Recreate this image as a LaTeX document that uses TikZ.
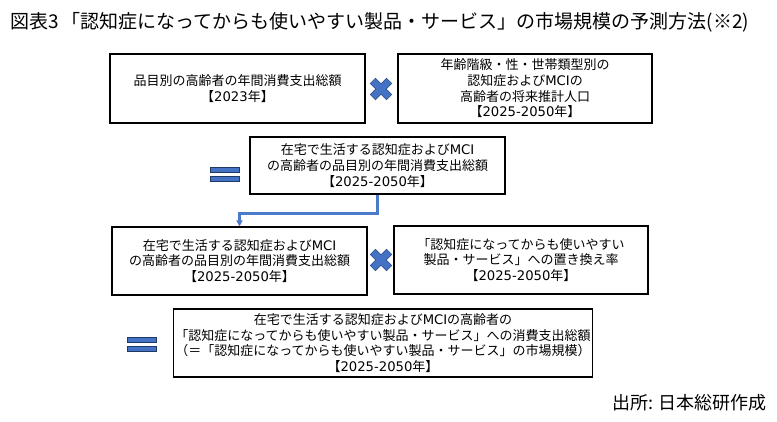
\documentclass[tikz,border=0pt]{standalone}
\usepackage{fontspec}
\setmainfont{Noto Sans CJK JP}
\newfontfamily\lat{DejaVu Sans}
\usetikzlibrary{arrows.meta}
\definecolor{xblue}{HTML}{4472C4}
\definecolor{xedge}{HTML}{2F528F}
\definecolor{eqedge}{HTML}{1F3864}
\definecolor{linkblue}{HTML}{4A7BC8}
\tikzset{
  box/.style={draw=black, line width=1.1pt, fill=white, align=center, inner sep=2pt,
    font=\fontsize{13}{15.7}\selectfont},
  eqbar/.style={fill=xblue, draw=eqedge, line width=0.8pt},
  xmark/.style={fill=xblue, draw=xedge, line width=0.6pt},
  link/.style={draw=linkblue, line width=2.2pt, -{Triangle[length=6pt,width=6pt]}},
}
\newcommand{\latx}[1]{{\lat\fontsize{13.2}{15.7}\selectfont #1}}
\newcommand{\yrs}{【\latx{2025-2050}年】}
\newcommand{\mci}{\latx{MCI}}
\newcommand{\timesmark}[2]{%
  \begin{scope}[shift={(#1,#2)}, rotate=45]
    \path[xmark] (3.6,11.5) -- (3.6,3.6) -- (11.5,3.6) -- (11.5,-3.6) -- (3.6,-3.6) -- (3.6,-11.5)
      -- (-3.6,-11.5) -- (-3.6,-3.6) -- (-11.5,-3.6) -- (-11.5,3.6) -- (-3.6,3.6) -- (-3.6,11.5) -- cycle;
  \end{scope}}
\newcommand{\equalmark}[2]{%
  \path[eqbar] (#1,#2) rectangle ++(29,5);
  \path[eqbar] (#1,#2+9) rectangle ++(29,5);}
\begin{document}
\begin{tikzpicture}[x=1pt,y=-1pt]
\useasboundingbox[fill=white] (0,0) rectangle (777,422);

\node[anchor=west, inner sep=0pt, font=\fontsize{19}{20}\selectfont] (title) at (10,22)
  {図表3\,「認知症になってからも使いやすい製品・サービス」の市場規模の予測方法(※2)};

\node[box, minimum width=255pt, minimum height=69pt] (b1) at (237.5,88.5)
  {品目別の高齢者の年間消費支出総額\\【\latx{2023}年】};
\node[box, minimum width=254pt, minimum height=69pt] (b2) at (525,88.5)
  {年齢階級・性・世帯類型別の\\認知症および\mci の\\高齢者の将来推計人口\\\yrs};
\timesmark{381}{89}

\equalmark{210}{167}
\node[box, minimum width=255pt, minimum height=57pt] (b3) at (377.5,165.5)
  {在宅で生活する認知症および\mci\\の高齢者の品目別の年間消費支出総額\\\yrs};

\node[box, minimum width=255pt, minimum height=68pt] (b4) at (239.5,261)
  {在宅で生活する認知症および\mci\\の高齢者の品目別の年間消費支出総額\\\yrs};
\node[box, minimum width=254pt, minimum height=68pt] (b5) at (521,260)
  {「認知症になってからも使いやすい\\製品・サービス」への置き換え率\\\yrs};
\timesmark{381}{260}

\draw[link] (b3.south) -- ++(0,19) -| (b4.north);

\equalmark{127}{337}
\node[box, minimum width=418pt, minimum height=68pt] (b6) at (383,343)
  {在宅で生活する認知症および\mci の高齢者の\\「認知症になってからも使いやすい製品・サービス」への消費支出総額\\（＝「認知症になってからも使いやすい製品・サービス」の市場規模）\\\yrs};

\node[anchor=east, inner sep=0pt, font=\fontsize{18}{20}\selectfont] (src) at (767,403)
  {出所: 日本総研作成};
\end{tikzpicture}
\end{document}
